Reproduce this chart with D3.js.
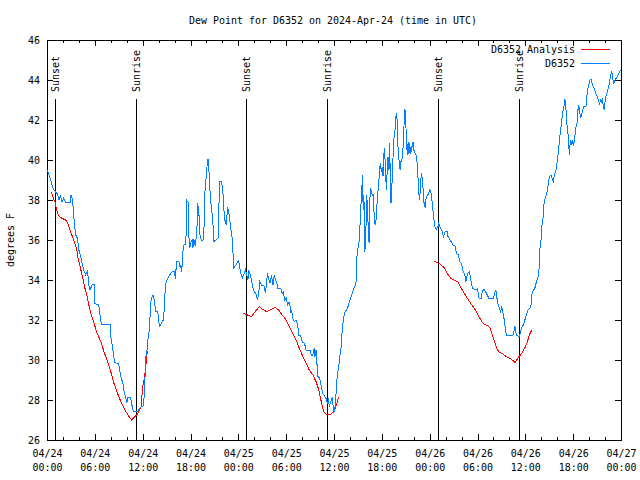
<!DOCTYPE html>
<html><head><meta charset="utf-8">
<script src="https://cdn.jsdelivr.net/npm/d3@7"></script>
<style>body{margin:0;background:#fff}svg{display:block}</style>
</head><body>
<svg id="chart" width="640" height="480"></svg>
<script>
// hours after 2024-04-24 00:00 UTC, dew point °F
const stationName = "D6352";
const titleText = "Dew Point for D6352 on 2024-Apr-24 (time in UTC)";
const yLabel = "degrees F";
const yTicks = [26, 28, 30, 32, 34, 36, 38, 40, 42, 44, 46];
const sunEvents = [["Sunset",1.0],["Sunrise",11.15],["Sunset",24.95],["Sunrise",35.1],["Sunset",49.05],["Sunrise",59.25]];

const observed = [[0.05,39.5],[0.46,39.0],[0.8,38.53],[1.09,38.4],[1.3,38.3],[1.5,38.0],[1.7,38.2],[1.9,37.9],[2.1,38.1],[2.3,37.9],[2.9,37.9],[3.0,38.25],[3.2,38.0],[3.4,37.0],[3.6,36.25],[3.8,36.1],[4.0,35.5],[4.2,35.2],[4.4,34.85],[4.6,34.5],[4.85,34.25],[5.1,34.5],[5.2,33.83],[5.4,33.5],[5.7,33.8],[5.9,33.8],[6.0,32.83],[6.5,32.75],[6.8,31.8],[7.9,31.8],[8.0,31.17],[8.2,30.67],[8.5,29.87],[9.0,29.8],[9.25,29.17],[9.55,28.8],[9.7,28.35],[9.9,28.1],[10.0,27.83],[10.15,28.13],[10.5,28.13],[10.6,27.83],[10.85,27.42],[11.35,27.42],[11.8,27.67],[12.1,27.7],[12.2,28.25],[12.4,30.17],[12.5,30.3],[12.65,31.0],[12.8,31.42],[12.95,32.33],[13.07,33.08],[13.3,33.25],[13.45,33.0],[13.65,32.42],[13.9,32.4],[14.1,31.67],[14.3,31.8],[14.6,32.0],[14.7,32.5],[14.8,33.33],[14.9,33.83],[15.25,34.17],[15.7,34.42],[16.0,34.42],[16.1,34.03],[16.25,34.92],[16.6,34.9],[16.7,34.6],[16.8,34.75],[16.9,34.4],[17.05,35.42],[17.2,35.8],[17.4,35.8],[17.47,36.53],[17.55,37.97],[17.7,37.9],[17.8,36.17],[17.9,35.58],[18.05,35.9],[18.2,36.0],[18.3,35.6],[18.4,36.05],[18.6,35.7],[18.8,36.5],[18.9,37.87],[19.1,37.1],[19.2,36.2],[19.4,35.96],[19.6,36.0],[19.7,36.7],[19.8,38.33],[20.07,39.67],[20.2,40.07],[20.3,39.6],[20.4,38.67],[20.6,37.67],[20.8,37.0],[20.9,35.92],[21.3,36.03],[21.45,36.1],[21.55,37.5],[21.65,38.92],[21.9,38.92],[22.1,38.25],[22.25,37.08],[22.5,36.75],[22.65,37.67],[22.8,37.4],[23.0,36.75],[23.2,36.17],[23.3,35.7],[23.4,34.58],[23.7,34.75],[24.04,34.97],[24.1,34.83],[24.3,34.33],[24.5,34.1],[24.7,34.3],[24.9,34.53],[25.2,34.0],[25.3,34.5],[25.45,34.33],[25.6,34.08],[25.8,33.67],[26.0,33.42],[26.2,33.33],[26.4,33.0],[26.55,33.3],[26.7,33.92],[26.9,33.75],[27.2,33.75],[27.4,33.33],[27.65,34.33],[27.8,34.08],[28.0,33.83],[28.15,34.25],[28.35,33.75],[28.5,34.25],[28.65,34.0],[28.8,33.9],[28.95,33.58],[29.35,33.55],[29.5,33.33],[29.65,33.4],[29.8,33.0],[30.0,33.1],[30.2,32.75],[30.35,32.9],[30.5,32.67],[30.6,32.33],[30.7,32.5],[30.8,32.1],[31.0,31.92],[31.2,32.0],[31.4,31.83],[31.6,31.25],[31.8,31.25],[32.0,30.92],[32.3,30.83],[32.5,30.5],[33.0,30.5],[33.15,30.25],[33.35,30.25],[33.5,30.58],[33.6,30.15],[33.75,30.5],[33.97,29.17],[34.2,29.1],[34.4,28.67],[34.6,28.33],[34.85,28.17],[35.0,28.08],[35.2,27.83],[35.3,28.08],[35.4,27.67],[35.6,27.9],[35.8,28.17],[35.95,27.33],[36.15,27.67],[36.4,29.17],[36.6,29.67],[36.7,30.08],[36.9,30.67],[37.0,31.33],[37.15,31.92],[37.3,32.33],[37.55,32.5],[37.7,32.6],[37.95,32.92],[38.15,33.17],[38.35,33.42],[38.6,33.67],[38.75,33.8],[38.85,34.58],[38.9,35.42],[39.1,35.75],[39.2,36.17],[39.3,37.08],[39.35,37.5],[39.5,38.67],[39.6,39.25],[39.65,37.5],[39.75,38.25],[39.87,35.42],[40.0,36.4],[40.1,38.25],[40.2,37.7],[40.3,36.5],[40.4,35.83],[40.45,37.83],[40.6,38.58],[40.7,38.4],[40.85,38.2],[40.9,38.3],[41.0,37.5],[41.15,36.75],[41.25,36.8],[41.3,37.33],[41.55,38.58],[41.7,39.33],[41.8,39.83],[41.95,39.4],[42.05,39.67],[42.15,39.2],[42.25,40.25],[42.35,40.58],[42.5,39.0],[42.6,38.5],[42.7,40.0],[42.8,40.17],[42.9,39.5],[42.97,40.83],[43.05,39.4],[43.15,37.83],[43.25,38.58],[43.38,39.92],[43.5,41.0],[43.65,41.5],[43.73,42.08],[43.85,42.33],[43.95,41.83],[44.0,40.83],[44.15,40.0],[44.3,39.5],[44.4,39.92],[44.55,40.08],[44.7,40.83],[44.75,41.5],[44.9,42.53],[45.0,41.92],[45.1,40.83],[45.2,40.25],[45.3,40.92],[45.4,40.3],[45.5,40.83],[45.6,40.3],[45.75,40.6],[45.9,40.92],[46.0,40.5],[46.1,40.42],[46.35,40.17],[46.5,39.5],[46.6,38.42],[46.75,38.0],[46.85,38.75],[46.95,39.33],[47.05,39.1],[47.15,38.67],[47.3,37.83],[47.45,37.58],[47.55,38.08],[47.7,38.25],[47.85,38.3],[48.0,38.5],[48.15,38.4],[48.3,37.92],[48.45,37.33],[48.6,36.83],[48.7,36.58],[48.85,36.55],[49.05,36.67],[49.1,36.83],[49.5,36.5],[49.75,36.17],[49.95,36.42],[50.2,36.42],[50.3,36.17],[50.55,36.0],[50.95,35.75],[51.2,35.7],[51.35,35.33],[51.6,35.25],[51.8,34.92],[52.0,34.8],[52.2,34.42],[52.4,34.3],[52.55,33.92],[52.75,34.33],[53.0,34.42],[53.2,33.9],[53.4,33.58],[53.8,33.5],[54.0,33.58],[54.2,33.08],[54.45,33.08],[54.6,33.42],[54.8,33.53],[55.0,33.42],[55.3,33.2],[55.4,33.08],[56.0,33.08],[56.15,33.33],[56.3,33.5],[56.5,32.92],[56.75,32.58],[56.9,32.42],[57.05,32.67],[57.2,32.33],[57.4,31.92],[57.5,31.5],[57.65,31.25],[58.45,31.25],[58.7,31.67],[58.8,31.42],[58.9,31.25],[59.2,31.17],[59.35,31.33],[59.5,31.58],[59.75,31.75],[60.0,32.08],[60.35,32.5],[60.7,32.67],[60.85,33.33],[61.0,33.47],[61.2,33.6],[61.4,33.92],[61.6,34.17],[61.75,34.67],[61.8,35.5],[61.95,35.83],[62.0,36.33],[62.15,37.0],[62.25,37.17],[62.35,37.83],[62.55,38.17],[62.65,38.25],[62.8,38.58],[62.95,39.0],[63.05,39.17],[63.2,39.25],[63.35,39.08],[63.5,38.92],[63.6,39.17],[63.7,39.33],[63.85,39.5],[63.95,39.83],[64.05,40.0],[64.15,40.5],[64.3,41.0],[64.4,41.5],[64.5,41.67],[64.6,42.08],[64.75,42.5],[64.85,42.7],[64.95,43.03],[65.05,42.9],[65.1,42.5],[65.2,41.83],[65.45,41.0],[65.5,40.25],[65.6,40.75],[65.7,41.0],[65.8,40.83],[65.9,40.92],[66.05,40.75],[66.2,41.08],[66.3,41.58],[66.45,41.75],[66.55,42.08],[66.6,42.5],[66.7,42.75],[66.85,42.33],[66.95,42.08],[67.05,42.25],[67.2,42.5],[67.35,42.67],[67.6,42.67],[67.7,42.92],[67.75,43.33],[67.85,43.58],[68.0,43.83],[68.1,44.0],[68.25,44.03],[68.35,43.87],[68.5,43.7],[68.6,43.63],[68.7,43.5],[68.85,43.33],[69.0,43.17],[69.15,43.0],[69.3,42.83],[69.45,43.0],[69.55,42.87],[69.65,43.08],[69.8,42.67],[69.9,42.5],[70.0,42.92],[70.15,43.25],[70.35,43.5],[70.5,43.75],[70.6,44.0],[70.7,44.25],[70.85,44.42],[70.95,44.08],[71.1,43.83],[71.2,43.92],[71.3,44.08],[71.45,44.08],[71.5,44.17],[71.65,44.25],[71.8,44.42],[72.0,44.5]];

const analysisNight1 = [[0.55,38.42],[0.8,38.08],[1.0,37.9],[1.2,37.5],[1.5,37.2],[1.9,37.08],[2.35,37.0],[2.55,36.87],[2.75,36.67],[2.95,36.4],[3.2,36.17],[3.5,35.83],[3.75,35.5],[3.9,35.08],[4.15,34.67],[4.45,34.17],[4.7,33.67],[5.0,33.25],[5.3,32.67],[5.55,32.25],[5.9,31.83],[6.3,31.33],[6.75,30.92],[7.15,30.42],[7.6,29.92],[8.0,29.42],[8.4,28.83],[8.85,28.33],[9.35,27.83],[9.9,27.42],[10.3,27.17],[10.6,27.0],[11.25,27.25],[11.5,27.4],[11.8,27.67],[12.0,28.67],[12.2,29.08],[12.35,29.5],[12.5,30.17],[12.6,30.45]];
const analysisNight2 = [[24.6,32.33],[25.15,32.25],[25.65,32.17],[26.1,32.42],[26.65,32.67],[27.05,32.53],[27.55,32.42],[28.1,32.53],[28.65,32.63],[29.1,32.47],[29.5,32.25],[30.0,32.0],[30.4,31.67],[30.8,31.33],[31.25,31.0],[31.65,30.58],[32.1,30.17],[32.5,29.83],[32.9,29.5],[33.35,29.25],[33.75,28.92],[34.1,28.5],[34.4,27.92],[34.7,27.42],[35.0,27.3],[35.6,27.3],[36.0,27.42],[36.3,27.75],[36.6,28.17]];
const analysisNight3 = [[48.6,34.92],[49.0,34.87],[49.45,34.75],[49.9,34.58],[50.2,34.33],[50.65,34.08],[51.05,34.0],[51.5,33.92],[51.75,33.75],[52.2,33.42],[52.6,33.17],[53.0,32.92],[53.45,32.67],[53.85,32.42],[54.3,32.08],[54.7,31.83],[55.1,31.75],[55.55,31.63],[55.8,31.33],[56.15,30.92],[56.5,30.5],[56.8,30.37],[57.2,30.3],[57.6,30.17],[58.05,30.08],[58.45,29.97],[58.7,29.87],[58.9,30.0],[59.2,30.17],[59.55,30.33],[59.9,30.58],[60.2,30.83],[60.5,31.25],[60.8,31.5]];

const legendItems = [["D6352 Analysis","#ff0000"],["D6352","#0080ff"]];

const T0 = Date.UTC(2024,3,24);
const toDate = h => new Date(T0 + h*3600e3);
const FONT = "DejaVu Sans Mono, monospace";
const CW = 6; // character advance

const L = 47, R = 621, T = 40, B = 440;
const svg = d3.select("#chart");
const x = d3.scaleUtc().domain([toDate(0), toDate(72)]).range([L, R]);
const y = d3.scaleLinear().domain([26, 46]).range([B, T]);

function fit(sel){
  sel.each(function(){
    const t = d3.select(this).text();
    if (t.length) d3.select(this).attr("textLength", t.length*CW).attr("lengthAdjust","spacingAndGlyphs");
  });
  return sel;
}
function txt(g, s, xx, yy, anchor, rot){
  const t = g.append("text").attr("font-family",FONT).attr("font-size",11).attr("fill","#000")
    .attr("text-anchor",anchor||"start").text(s);
  if (rot) t.attr("transform",`translate(${xx},${yy}) rotate(${rot})`);
  else t.attr("x",xx).attr("y",yy);
  fit(t);
  return t;
}

// title
txt(svg, titleText, 333, 24, "middle");
// y label
txt(svg, yLabel, 14, 240, "middle", -90);

// axes (inward ticks)
const styleAxis = g => { g.select(".domain").remove(); g.selectAll("line").attr("stroke","#000").attr("shape-rendering","crispEdges"); g.attr("font-family",FONT).attr("font-size",11); };
svg.append("g").attr("transform",`translate(0,${B})`)
  .call(d3.axisBottom(x).ticks(d3.utcHour.every(2)).tickSize(-3).tickFormat(""))
  .call(styleAxis);
svg.append("g").attr("transform",`translate(0,${T})`)
  .call(d3.axisTop(x).ticks(d3.utcHour.every(2)).tickSize(-3).tickFormat(""))
  .call(styleAxis);
svg.append("g").attr("transform",`translate(0,${T})`)
  .call(d3.axisTop(x).ticks(d3.utcHour.every(6)).tickSize(-6).tickFormat(""))
  .call(styleAxis);
const fmtD = d3.utcFormat("%m/%d"), fmtT = d3.utcFormat("%H:%M");
const bx = svg.append("g").attr("transform",`translate(0,${B})`)
  .call(d3.axisBottom(x).ticks(d3.utcHour.every(6)).tickSize(-6).tickPadding(13).tickFormat(fmtD))
  .call(styleAxis);
bx.selectAll(".tick text").attr("fill","#000").attr("dy",null).attr("y",17).call(fit);
bx.selectAll(".tick").each(function(d){
  d3.select(this).append("text").attr("fill","#000").attr("text-anchor","middle")
    .attr("y",31).text(fmtT(d)).call(fit);
});
const ly = svg.append("g").attr("transform",`translate(${L},0)`)
  .call(d3.axisLeft(y).tickValues(yTicks).tickSize(-6).tickPadding(7).tickFormat(d3.format("d")))
  .call(styleAxis);
ly.selectAll(".tick text").attr("fill","#000").call(fit);
svg.append("g").attr("transform",`translate(${R},0)`)
  .call(d3.axisRight(y).tickValues(yTicks).tickSize(-6).tickFormat(""))
  .call(styleAxis);

// frame
svg.append("rect").attr("x",L).attr("y",T).attr("width",R-L).attr("height",B-T)
  .attr("fill","none").attr("stroke","#000").attr("shape-rendering","crispEdges");

// sun events
sunEvents.forEach(([name,h]) => {
  const xx = Math.round(x(toDate(h)));
  svg.append("line").attr("x1",xx).attr("x2",xx).attr("y1",99).attr("y2",B)
    .attr("stroke","#000").attr("stroke-width",1).attr("shape-rendering","crispEdges");
  txt(svg, name, xx+4, 92, "start", -90);
});

// series
const line = d3.line().x(d => x(toDate(d[0]))).y(d => y(d[1]));
[analysisNight1, analysisNight2, analysisNight3].forEach(seg => {
  svg.append("path").datum(seg).attr("d",line).attr("fill","none").attr("stroke",legendItems[0][1])
    .attr("stroke-width",1).attr("shape-rendering","crispEdges");
});
svg.append("path").datum(observed).attr("d",line).attr("fill","none").attr("stroke",legendItems[1][1])
  .attr("stroke-width",1).attr("shape-rendering","crispEdges");

// legend
legendItems.forEach(([name,color],i) => {
  const yy = 49 + i*14;
  txt(svg, name, 575, yy+4, "end");
  svg.append("line").attr("x1",581).attr("x2",610).attr("y1",yy).attr("y2",yy)
    .attr("stroke",color).attr("stroke-width",1).attr("shape-rendering","crispEdges");
});
</script>
</body></html>
